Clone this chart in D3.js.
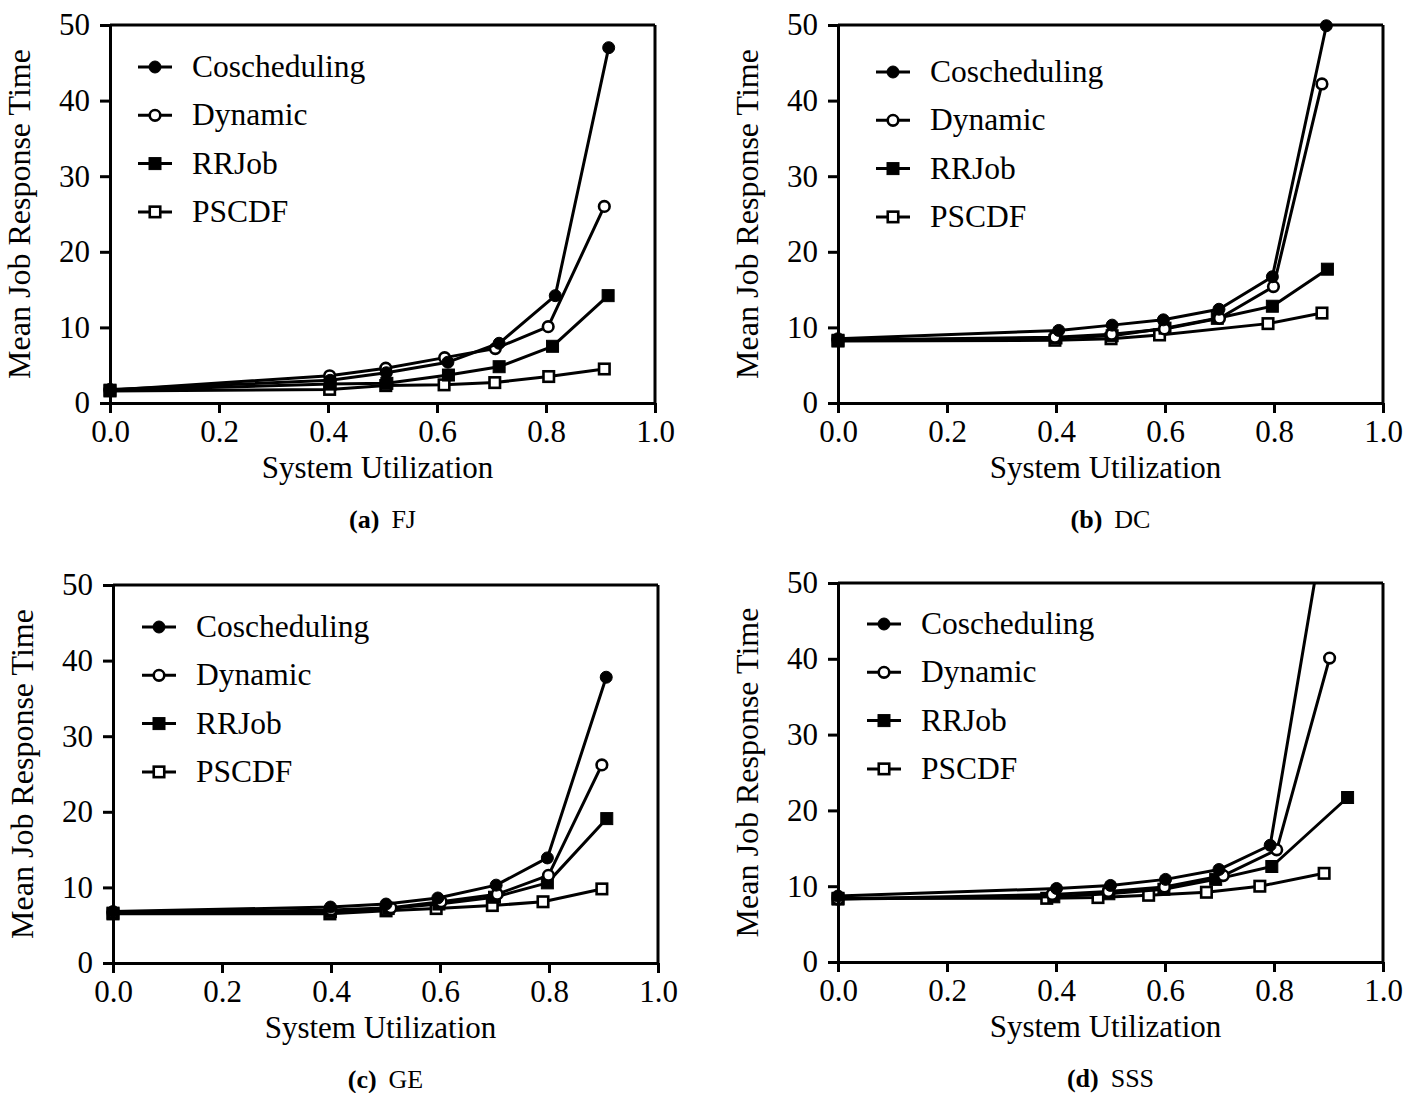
<!DOCTYPE html>
<html>
<head>
<meta charset="utf-8">
<script src="https://cdn.jsdelivr.net/npm/d3@7"></script>
<style>
    body { margin: 0; background: #fff; }
    svg { display: block; }
    text { font-family: "Liberation Serif", "Times New Roman", serif; fill: #000; }
</style>
</head>
<body>
<svg id="chart" width="1407" height="1093"></svg>
<script>
// Tick values and series names
const xTicks = [0.0, 0.2, 0.4, 0.6, 0.8, 1.0];
const yTicks = [0, 10, 20, 30, 40, 50];
const seriesNames = ["Coscheduling", "Dynamic", "RRJob", "PSCDF"];

// (a) FJ  -- [utilization, response time]
const fjCosched = [[0.0, 1.8], [0.404, 3.0], [0.507, 4.0], [0.620, 5.4], [0.714, 7.9], [0.817, 14.2], [0.915, 47.0]];
const fjDynamic = [[0.0, 1.7], [0.403, 3.6], [0.506, 4.6], [0.614, 6.0], [0.707, 7.2], [0.804, 10.1], [0.907, 26.0]];
const fjRRJob = [[0.0, 1.7], [0.404, 2.5], [0.508, 2.6], [0.621, 3.7], [0.714, 4.8], [0.812, 7.5], [0.914, 14.2]];
const fjPSCDF = [[0.0, 1.6], [0.403, 1.8], [0.506, 2.3], [0.613, 2.4], [0.706, 2.7], [0.805, 3.5], [0.907, 4.5]];

// (b) DC
const dcCosched = [[0.0, 8.5], [0.405, 9.6], [0.503, 10.3], [0.597, 11.0], [0.699, 12.4], [0.797, 16.7], [0.896, 49.9]];
const dcDynamic = [[0.0, 8.3], [0.398, 8.7], [0.502, 9.1], [0.599, 9.8], [0.700, 11.2], [0.799, 15.4], [0.888, 42.2]];
const dcRRJob = [[0.0, 8.3], [0.400, 8.6], [0.503, 8.9], [0.600, 9.9], [0.696, 11.2], [0.797, 12.8], [0.898, 17.7]];
const dcPSCDF = [[0.0, 8.2], [0.398, 8.3], [0.501, 8.5], [0.590, 9.0], [0.789, 10.5], [0.888, 11.9]];

// (c) GE
const geCosched = [[0.0, 6.8], [0.399, 7.4], [0.501, 7.8], [0.596, 8.6], [0.703, 10.3], [0.797, 13.9], [0.905, 37.8]];
const geDynamic = [[0.0, 6.6], [0.400, 7.0], [0.510, 7.3], [0.602, 8.1], [0.705, 9.1], [0.799, 11.6], [0.897, 26.2]];
const geRRJob = [[0.0, 6.6], [0.399, 6.8], [0.505, 7.2], [0.598, 7.8], [0.700, 8.7], [0.797, 10.6], [0.906, 19.1]];
const gePSCDF = [[0.0, 6.5], [0.398, 6.5], [0.501, 6.9], [0.593, 7.2], [0.696, 7.6], [0.789, 8.1], [0.897, 9.8]];

// (d) SSS
const sssCosched = [[0.0, 8.7], [0.401, 9.7], [0.500, 10.1], [0.601, 10.9], [0.699, 12.2], [0.793, 15.4], [0.900, 61.0]];
const sssDynamic = [[0.0, 8.3], [0.393, 8.9], [0.496, 9.3], [0.599, 9.9], [0.707, 11.4], [0.805, 14.8], [0.902, 40.1]];
const sssRRJob = [[0.0, 8.3], [0.396, 8.6], [0.497, 9.0], [0.598, 9.6], [0.693, 10.9], [0.796, 12.6], [0.935, 21.7]];
const sssPSCDF = [[0.0, 8.4], [0.383, 8.4], [0.477, 8.5], [0.570, 8.8], [0.676, 9.2], [0.774, 10.0], [0.892, 11.7]];

// Panel layout
const PANELS = [
    { key: "a", label: "(a)", name: "FJ", left: 110, top: 25, width: 545, height: 378, legend: [45, 42],
      series: [fjCosched, fjDynamic, fjRRJob, fjPSCDF] },
    { key: "b", label: "(b)", name: "DC", left: 838, top: 25, width: 545, height: 378, legend: [55, 47],
      series: [dcCosched, dcDynamic, dcRRJob, dcPSCDF] },
    { key: "c", label: "(c)", name: "GE", left: 113, top: 585, width: 545, height: 378, legend: [46, 42],
      series: [geCosched, geDynamic, geRRJob, gePSCDF] },
    { key: "d", label: "(d)", name: "SSS", left: 838, top: 583, width: 545, height: 379, legend: [46, 41],
      series: [sssCosched, sssDynamic, sssRRJob, sssPSCDF] },
];

const FONT_SIZE = 31;
const LINE_W = 3;

const svg = d3.select("#chart");

// Draw a marker of series i centred at (cx, cy)
function drawMarker(sel, i, cx, cy) {
    if (i === 0 || i === 1) {
        sel.append("circle")
            .attr("cx", cx).attr("cy", cy)
            .attr("r", i === 0 ? 6 : 5.3)
            .attr("fill", i === 0 ? "#000" : "#fff")
            .attr("stroke", "#000")
            .attr("stroke-width", i === 0 ? 1 : 2.6);
    } else {
        const s = i === 2 ? 12 : 10.5;
        sel.append("rect")
            .attr("x", cx - s / 2).attr("y", cy - s / 2)
            .attr("width", s).attr("height", s)
            .attr("fill", i === 2 ? "#000" : "#fff")
            .attr("stroke", "#000")
            .attr("stroke-width", i === 2 ? 1 : 2.6);
    }
}

function styleAxis(g) {
    g.attr("font-size", FONT_SIZE).attr("font-family", null);
    g.selectAll(".domain").attr("stroke-width", 3);
    g.selectAll(".tick line").attr("stroke-width", 3);
}

function drawPanel(p) {
    const g = svg.append("g").attr("transform", `translate(${p.left},${p.top})`);
    const x = d3.scaleLinear().domain([0, 1]).range([0, p.width]);
    const y = d3.scaleLinear().domain([0, 50]).range([p.height, 0]);

    const clipId = "clip-" + p.key;
    g.append("clipPath").attr("id", clipId)
        .append("rect").attr("width", p.width).attr("height", p.height);

    const line = d3.line().x((d) => x(d[0])).y((d) => y(d[1]));

    // Series, drawn bottom-up so Coscheduling ends on top
    for (let i = p.series.length - 1; i >= 0; i--) {
        const data = p.series[i];
        g.append("path")
            .datum(data)
            .attr("clip-path", `url(#${clipId})`)
            .attr("fill", "none")
            .attr("stroke", "#000")
            .attr("stroke-width", LINE_W)
            .attr("stroke-linejoin", "round")
            .attr("d", line);
        const mg = g.append("g");
        data.filter((d) => d[1] <= 50).forEach((d) => drawMarker(mg, i, x(d[0]), y(d[1])));
    }

    // Frame: top and right
    g.append("line").attr("x1", 0).attr("x2", p.width).attr("y1", 0).attr("y2", 0)
        .attr("stroke", "#000").attr("stroke-width", 3);
    g.append("line").attr("x1", p.width).attr("x2", p.width).attr("y1", 0).attr("y2", p.height)
        .attr("stroke", "#000").attr("stroke-width", 3);

    // Axes
    g.append("g")
        .attr("transform", `translate(0,${p.height})`)
        .call(d3.axisBottom(x).tickValues(xTicks).tickFormat(d3.format(".1f"))
            .tickSize(10).tickSizeOuter(0).tickPadding(7))
        .call(styleAxis);
    g.append("g")
        .call(d3.axisLeft(y).tickValues(yTicks).tickSize(10).tickSizeOuter(0).tickPadding(10))
        .call(styleAxis);

    // Axis titles
    g.append("text")
        .attr("x", p.width / 2 - 5).attr("y", p.height + 75)
        .attr("text-anchor", "middle").attr("font-size", FONT_SIZE)
        .text("System Utilization");
    g.append("text")
        .attr("transform", `translate(-80,${p.height / 2}) rotate(-90)`)
        .attr("text-anchor", "middle").attr("font-size", 32)
        .text("Mean Job Response Time");

    // Legend
    const lg = g.append("g").attr("transform", `translate(${p.legend[0]},${p.legend[1]})`);
    seriesNames.forEach((name, i) => {
        const ry = i * 48.3;
        lg.append("line").attr("x1", -17).attr("x2", 17).attr("y1", ry).attr("y2", ry)
            .attr("stroke", "#000").attr("stroke-width", LINE_W);
        drawMarker(lg, i, 0, ry);
        lg.append("text").attr("x", 37).attr("y", ry).attr("dy", "0.32em")
            .attr("font-size", 31.5).text(name);
    });

    // Caption
    const cap = g.append("text")
        .attr("x", p.width / 2).attr("y", p.height + 125)
        .attr("text-anchor", "middle").attr("font-size", 26);
    cap.append("tspan").attr("font-weight", "bold").text(p.label);
    cap.append("tspan").attr("dx", 12).text(p.name);
}

PANELS.forEach(drawPanel);
</script>
</body>
</html>
